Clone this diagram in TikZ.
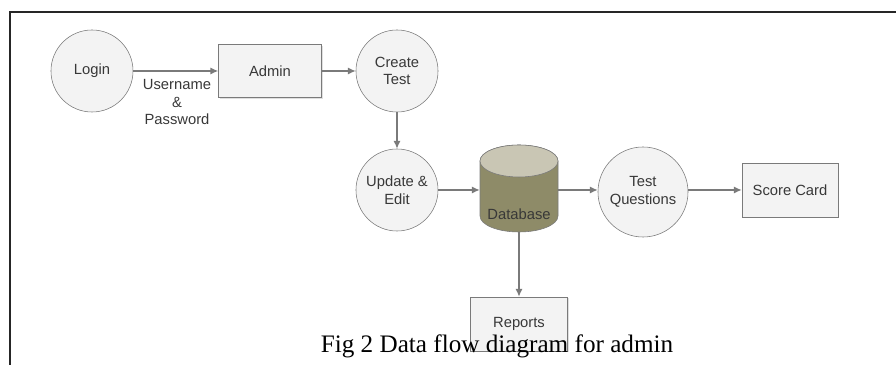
\documentclass[tikz,border=0pt]{standalone}
\usepackage{fontspec}
\setmainfont{Liberation Serif}
\setsansfont{Liberation Sans}
\usepackage{tikz}
\usetikzlibrary{arrows.meta,shadows}

\definecolor{edgegray}{HTML}{7A7A7A}
\definecolor{boxfill}{HTML}{F3F3F3}
\definecolor{dbbody}{HTML}{8E8B68}
\definecolor{dbtop}{HTML}{C9C6B4}

\begin{document}
\begin{tikzpicture}[x=0.025cm,y=-0.025cm]
	\tikzstyle{every node} = [font=\sffamily\fontsize{10.5}{12.5}\selectfont,text=black!78]
	\tikzstyle{proc} = [draw=edgegray,shape=circle,fill=boxfill,align=center,minimum size=2.05cm,inner sep=0pt]
	\tikzstyle{entity} = [draw=edgegray,shape=rectangle,fill=boxfill,align=center,drop shadow={shadow xshift=1pt,shadow yshift=-1pt,opacity=0.25}]
	\tikzstyle{flow} = [draw=edgegray,line width=0.9pt,-{Latex[length=5.5pt,width=5pt]}]
	\useasboundingbox (0,0) rectangle (896,365);
	\draw[line width=1pt,black!85] (10,365) -- (10,12) -- (896,12);

	\node[proc] (Login) at (92,71) {Login};
	\node[entity,minimum width=2.575cm,minimum height=1.325cm] (Admin) at (270,71) {Admin};
	\node[proc] (CreateTest) at (397,71) {Create\\Test};
	\node[proc,minimum size=2.05cm] (UpdateEdit) at (397,190) {Update \&\\Edit};

	% database drum
	\filldraw[fill=dbbody,draw=edgegray] (480,161) -- (480,216) arc(180:0:39 and 16) -- (558,161) arc(0:-180:39 and 16) -- cycle;
	\filldraw[fill=dbtop,draw=edgegray] (519,161) ellipse (39 and 16);
	\node[minimum width=1.95cm,minimum height=2.175cm,inner sep=0pt] (Database) at (519,188.5) {};
	\node (DatabaseText) at (519,214) {Database};

	\node[proc,minimum size=2.25cm] (TestQuestions) at (643,192) {Test\\Questions};
	\node[entity,minimum width=2.4cm,minimum height=1.35cm] (ScoreCard) at (790,190) {Score Card};
	\node[entity,minimum width=2.425cm,minimum height=1.35cm] (Reports) at (519,324) {Reports};

	\draw[flow] (Login) -- (Admin);
	\node[align=center] (Credentials) at (177,102) {Username\\\&\\Password};
	\draw[flow] (Admin) -- (CreateTest);
	\draw[flow] (CreateTest) -- (UpdateEdit);
	\draw[flow] (UpdateEdit.east) -- (Database.west |- UpdateEdit.east);
	\draw[flow] (Database.east |- UpdateEdit.east) -- (TestQuestions.west |- UpdateEdit.east);
	\draw[flow] (TestQuestions.east |- ScoreCard.west) -- (ScoreCard.west);
	\draw[flow] (Database) -- (Reports);

	\node[font=\rmfamily\fontsize{17.9}{20}\selectfont,text=black] (Caption) at (497,346) {Fig 2 Data flow diagram for admin};
\end{tikzpicture}
\end{document}
